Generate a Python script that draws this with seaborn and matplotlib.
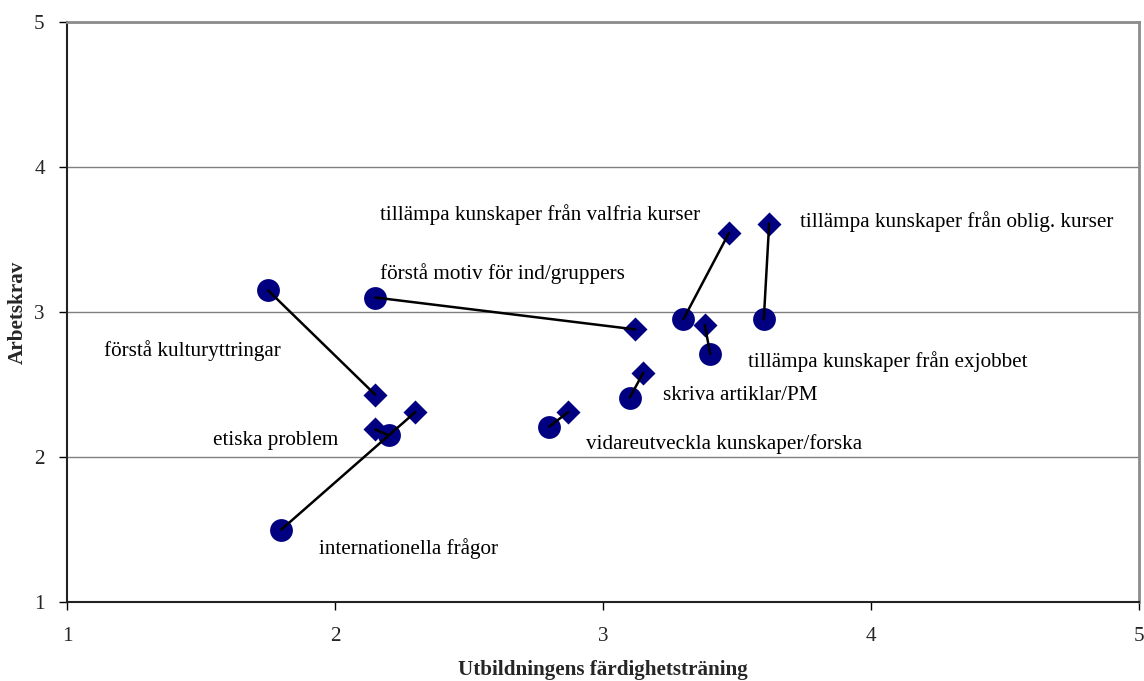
import matplotlib
matplotlib.use("Agg")
import matplotlib.pyplot as plt
import seaborn as sns
import pandas as pd

# Data
items = [
    "förstå kulturyttringar",
    "förstå motiv för ind/gruppers",
    "etiska problem",
    "internationella frågor",
    "vidareutveckla kunskaper/forska",
    "skriva artiklar/PM",
    "tillämpa kunskaper från valfria kurser",
    "tillämpa kunskaper från oblig. kurser",
    "tillämpa kunskaper från exjobbet",
]
circle_x = [1.75, 2.15, 2.20, 1.80, 2.80, 3.10, 3.30, 3.60, 3.40]
circle_y = [3.15, 3.10, 2.15, 1.50, 2.21, 2.41, 2.95, 2.95, 2.71]
diamond_x = [2.15, 3.12, 2.15, 2.30, 2.87, 3.15, 3.47, 3.62, 3.38]
diamond_y = [2.43, 2.88, 2.19, 2.31, 2.31, 2.58, 3.545, 3.61, 2.91]
ticks = [1, 2, 3, 4, 5]

# Label anchor positions (layout)
label_pos = [
    (1.138, 2.731), (2.168, 3.262), (1.545, 2.117), (1.940, 1.366),
    (2.937, 2.090), (3.224, 2.421), (2.168, 3.669), (3.735, 3.621),
    (3.541, 2.655),
]

sns.set_theme(style="white")
plt.rcParams['font.family'] = ['Liberation Serif', 'DejaVu Serif']

fig = plt.figure(figsize=(11.44, 6.81), dpi=100)
ax = fig.add_axes([67/1144, 1-602/681, (1139-67)/1144, (602-22)/681])

navy = "#000080"
fs = 15.2
dfc = pd.DataFrame({"x": circle_x, "y": circle_y})
dfd = pd.DataFrame({"x": diamond_x, "y": diamond_y})

for cx, cy, dx, dy in zip(circle_x, circle_y, diamond_x, diamond_y):
    ax.plot([cx, dx], [cy, dy], color="black", lw=1.8, zorder=4)

sns.scatterplot(data=dfc, x="x", y="y", marker="o", s=270, color=navy,
                edgecolor=navy, linewidth=0, ax=ax, zorder=3, legend=False)
sns.scatterplot(data=dfd, x="x", y="y", marker="D", s=150, color=navy,
                edgecolor=navy, linewidth=0, ax=ax, zorder=3, legend=False)

for name, (lx, ly) in zip(items, label_pos):
    ax.text(lx, ly, name, fontsize=fs, color="black", va="center", ha="left", zorder=5)

ax.set_xlim(1, 5)
ax.set_ylim(1, 5)
ax.set_xticks(ticks)
ax.set_yticks(ticks)
ax.set_xticklabels([str(t) for t in ticks], fontsize=fs)
ax.set_yticklabels([str(t) for t in ticks], fontsize=fs)
ax.tick_params(axis="both", direction="out", length=6, width=1, color="black",
               bottom=True, left=True)
ax.tick_params(axis="x", pad=12)
ax.tick_params(axis="y", pad=10)
ax.yaxis.grid(True, color="#808080", lw=1)
ax.xaxis.grid(False)
for s in ["left", "bottom"]:
    ax.spines[s].set_color("#222222")
    ax.spines[s].set_linewidth(1.5)
for s in ["top", "right"]:
    ax.spines[s].set_color("#8c8c8c")
    ax.spines[s].set_linewidth(2)
    ax.spines[s].set_visible(True)

ax.set_xlabel("Utbildningens färdighetsträning", fontsize=fs, fontweight="bold")
ax.set_ylabel("Arbetskrav", fontsize=fs, fontweight="bold")
ax.xaxis.set_label_coords(0.5, (602 - 670) / 580)
ax.yaxis.set_label_coords((18 - 67) / 1072, 0.5)
ax.xaxis.label.set_va("center")
ax.yaxis.label.set_va("center")

fig.savefig("out.png", dpi=100, facecolor="white")
